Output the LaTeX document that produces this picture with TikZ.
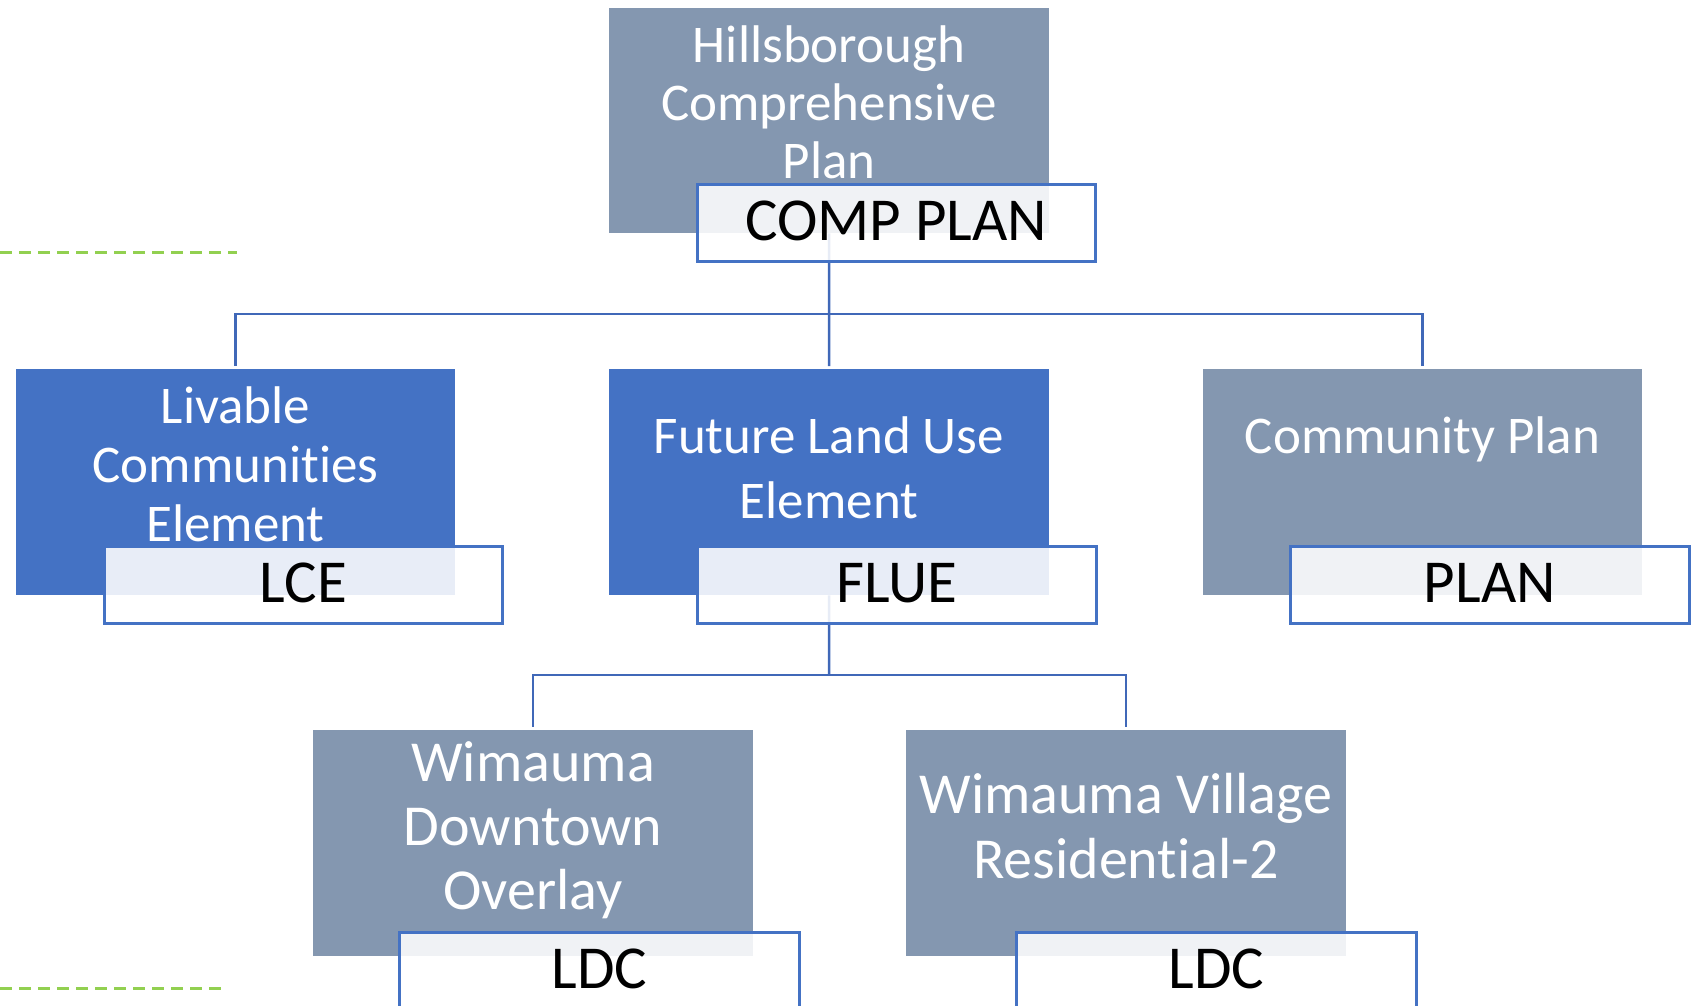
\documentclass[tikz,border=0pt]{standalone}
\usepackage{fontspec}
\setmainfont{Carlito}[Ligatures=NoCommon]
\usetikzlibrary{backgrounds}
\definecolor{slate}{HTML}{8497B0}
\definecolor{accent}{HTML}{4472C4}
\definecolor{linkc}{HTML}{4068B8}
\definecolor{lime}{HTML}{92D050}
\newcommand{\mlines}[1]{\begin{tabular}[t]{@{}c@{}}#1\end{tabular}}
\begin{document}
\begin{tikzpicture}[x=1pt,y=-1pt,
  panel/.style={rectangle, inner sep=0pt, anchor=north west, draw=none},
  greypanel/.style={panel, fill=slate},
  bluepanel/.style={panel, fill=accent},
  tagbox/.style={rectangle, anchor=north west, inner sep=0pt, fill=white, fill opacity=0.88,
    text opacity=1, draw=accent, draw opacity=1, line width=2.5pt, text=black,
    minimum height=77pt, text height=35pt, text depth=0pt, font=\fontsize{61}{70}\selectfont},
  wtext/.style={text=white, inner sep=0pt, anchor=base},
  conn/.style={draw=linkc, line width=2.5pt},
  guide/.style={draw=lime, line width=3pt, dash pattern=on 12pt off 7pt}]
\useasboundingbox (0,0) rectangle (1696,1005);

% green dashed guides
\draw[guide] (0,252) -- (237,252);
\draw[guide] (0,988) -- (226,988);

% panels
\node[greypanel, minimum width=440pt, minimum height=225pt] (hcp) at (609,8) {};
\node[bluepanel, minimum width=439pt, minimum height=226pt] (lce) at (16,369) {};
\node[bluepanel, minimum width=440pt, minimum height=226pt] (flue) at (609,369) {};
\node[greypanel, minimum width=439pt, minimum height=226pt] (cp) at (1203,369) {};
\node[greypanel, minimum width=440pt, minimum height=226pt] (wdo) at (313,730) {};
\node[greypanel, minimum width=440pt, minimum height=226pt] (wvr) at (906,730) {};

% panel texts
\node[wtext, font=\fontsize{53}{58}\selectfont] (hcpT) at (829,62) {\mlines{Hillsborough\\Comprehensive\\Plan}};
\node[wtext, font=\fontsize{53}{59}\selectfont] (lceT) at (235.5,423) {\mlines{Livable\\Communities\\Element}};
\node[wtext, font=\fontsize{53}{65}\selectfont] (flueT) at (829,453) {\mlines{Future Land Use\\Element}};
\node[wtext, font=\fontsize{53}{65}\selectfont] (cpT) at (1422.5,453) {Community Plan};
\node[wtext, font=\fontsize{58}{64}\selectfont] (wdoT) at (533,781) {\mlines{Wimauma\\Downtown\\Overlay}};
\node[wtext, font=\fontsize{58}{65}\selectfont] (wvrT) at (1126,813) {\mlines{Wimauma Village\\Residential-2}};

% connectors
\begin{pgfonlayer}{background}
\coordinate (j1) at (829,314);
\coordinate (j2) at (829,675);
\draw[conn] (hcp.south) -- (j1);
\draw[conn, shorten >=3pt] (j1) -| (lce.north);
\draw[conn, shorten >=3pt] (j1) -- (flue.north);
\draw[conn, shorten >=3pt] (j1) -| (cp.north);
\draw[conn] (flue.south) -- (j2);
\draw[conn, shorten >=3pt] (j2) -| (wdo.north);
\draw[conn, shorten >=3pt] (j2) -| (wvr.north);
\end{pgfonlayer}

% tags
\node[tagbox, minimum width=398pt] (compTag) at (696,183) {COMP PLAN};
\node[tagbox, minimum width=398pt] (lceTag) at (103,545) {LCE};
\node[tagbox, minimum width=399pt] (flueTag) at (696,545) {FLUE};
\node[tagbox, minimum width=399pt] (cpTag) at (1289,545) {PLAN};
\node[tagbox, minimum width=400pt] (wdoTag) at (398,931) {LDC};
\node[tagbox, minimum width=400pt] (wvrTag) at (1015,931) {LDC};
\end{tikzpicture}
\end{document}
